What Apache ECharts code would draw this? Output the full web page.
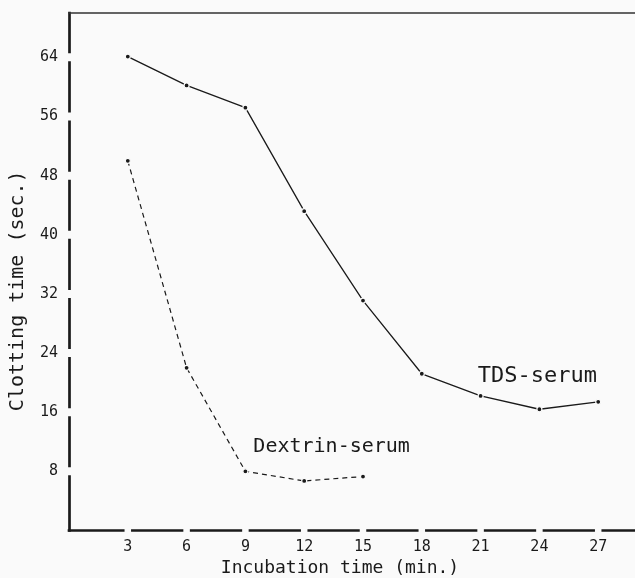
<!DOCTYPE html>
<html>
<head>
<meta charset="utf-8">
<script src="https://cdn.jsdelivr.net/npm/echarts@6/dist/echarts.min.js"></script>
<style>
  html, body { margin: 0; padding: 0; background: #fafafa; }
  #chart { width: 635px; height: 578px; }
</style>
</head>
<body>
<div id="chart"></div>
<script>
// Incubation time (min) and clotting time (sec) for the two sera
const incubationMin = [3, 6, 9, 12, 15, 18, 21, 24, 27];
const tdsSerum = [64.1, 60.2, 57.2, 43.2, 31.1, 21.2, 18.2, 16.4, 17.4];
const dextrinMin = [3, 6, 9, 12, 15];
const dextrinSerum = [50, 22, 8, 6.7, 7.3];
const xTickLabels = [3, 6, 9, 12, 15, 18, 21, 24, 27];
const yTickLabels = [8, 16, 24, 32, 40, 48, 56, 64];
const seriesNames = ['TDS-serum', 'Dextrin-serum'];

const X_MAX = 30;
const Y_MAX = 70;
const GRID = { left: 69, top: 13, right: -22, bottom: 47.5 };
const INK = '#1a1a1a';
const BG = '#fafafa';
const MONO = '"DejaVu Sans Mono", "Liberation Mono", monospace';
const AXIS_W = 2.7;

const chart = echarts.init(document.getElementById('chart'), null, { renderer: 'canvas' });
const plotW = chart.getWidth() - GRID.left - GRID.right;
const plotH = chart.getHeight() - GRID.top - GRID.bottom;

// Axis line broken by a short gap at every tick (square caps, so gaps are widened by the line width)
function brokenDash(lengthPx, axisMax, breaks, gapPx, lineW) {
  const unit = lengthPx / axisMax;
  const dash = [];
  let cursor = 0;
  breaks.forEach(function (v) {
    const c = v * unit;
    const end = c - gapPx / 2 - lineW / 2;
    dash.push(end - cursor, gapPx + lineW);
    cursor = c + gapPx / 2 + lineW / 2;
  });
  dash.push(lengthPx * 2, 0);
  return dash;
}

const hideEnds = function (list) {
  return function (v) { return list.indexOf(v) >= 0 ? String(v) : ''; };
};

const option = {
  animation: false,
  backgroundColor: BG,
  grid: Object.assign({ outerBoundsMode: 'none', containLabel: false }, GRID),
  xAxis: [{
    type: 'value',
    min: 0, max: X_MAX, interval: 3,
    position: 'bottom',
    axisLine: {
      onZero: false,
      lineStyle: { color: INK, width: AXIS_W, cap: 'square',
        type: brokenDash(plotW, X_MAX, xTickLabels, 6.5, AXIS_W) }
    },
    axisTick: { show: false },
    splitLine: { show: false },
    axisLabel: {
      margin: 9, color: INK, fontFamily: MONO, fontSize: 15,
      formatter: hideEnds(xTickLabels)
    },
    name: 'Incubation time (min.)',
    nameLocation: 'middle',
    nameGap: 27,
    nameTextStyle: { color: INK, fontFamily: MONO, fontSize: 18, padding: [0, 46, 0, 0] }
  }, {
    type: 'value',
    min: 0, max: X_MAX,
    position: 'top',
    axisLine: { onZero: false, lineStyle: { color: '#333', width: 1.5 } },
    axisTick: { show: false },
    axisLabel: { show: false },
    splitLine: { show: false }
  }],
  yAxis: {
    type: 'value',
    min: 0, max: Y_MAX, interval: 8,
    axisLine: {
      show: true, onZero: false,
      lineStyle: { color: INK, width: AXIS_W, cap: 'square',
        type: brokenDash(plotH, Y_MAX, yTickLabels, 8, AXIS_W) }
    },
    axisTick: { show: false },
    splitLine: { show: false },
    axisLabel: {
      margin: 11, color: INK, fontFamily: MONO, fontSize: 15,
      formatter: hideEnds(yTickLabels)
    },
    name: 'Clotting time (sec.)',
    nameLocation: 'middle',
    nameGap: 41,
    nameTextStyle: { color: INK, fontFamily: MONO, fontSize: 20, padding: [0, 38, 0, 0] }
  },
  series: [{
    name: seriesNames[0],
    type: 'line',
    data: incubationMin.map(function (x, i) { return [x, tdsSerum[i]]; }),
    symbol: 'circle',
    symbolSize: 5,
    itemStyle: { color: INK, borderColor: BG, borderWidth: 1.2 },
    lineStyle: { color: INK, width: 1.3 },
    z: 3,
    markPoint: {
      symbol: 'rect', symbolSize: 1,
      itemStyle: { color: 'rgba(0,0,0,0)' },
      label: { show: true, position: 'inside', color: INK, fontFamily: MONO, fontSize: 22,
        formatter: seriesNames[0] },
      data: [{ coord: [23.9, 20.8] }]
    }
  }, {
    name: seriesNames[1],
    type: 'line',
    data: dextrinMin.map(function (x, i) { return [x, dextrinSerum[i]]; }),
    symbol: 'circle',
    symbolSize: 5,
    itemStyle: { color: INK, borderColor: BG, borderWidth: 1.2 },
    lineStyle: { color: INK, width: 1.2, type: [5, 4] },
    z: 3,
    markPoint: {
      symbol: 'rect', symbolSize: 1,
      itemStyle: { color: 'rgba(0,0,0,0)' },
      label: { show: true, position: 'inside', color: INK, fontFamily: MONO, fontSize: 20,
        formatter: seriesNames[1] },
      data: [{ coord: [13.4, 11.3] }]
    }
  }]
};

chart.setOption(option);
</script>
</body>
</html>
